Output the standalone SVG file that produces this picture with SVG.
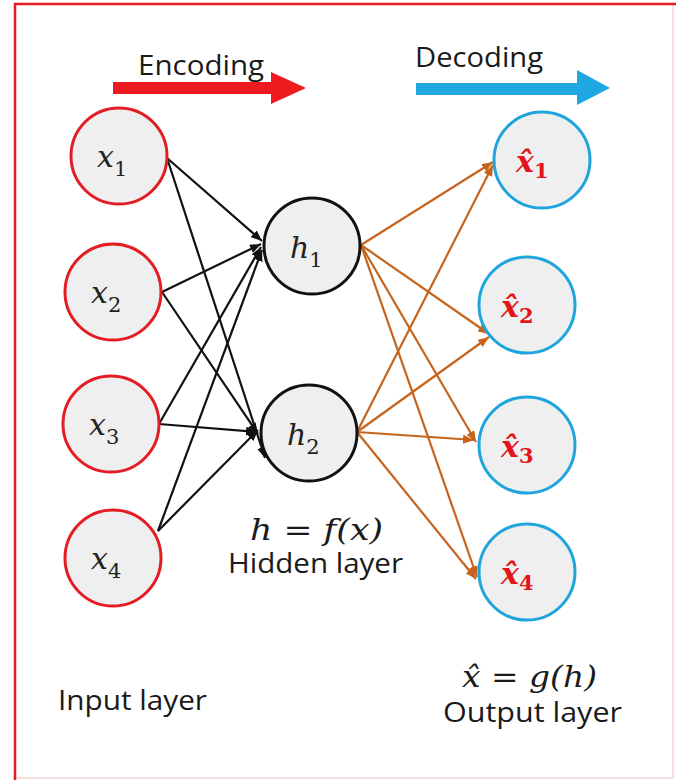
<svg xmlns="http://www.w3.org/2000/svg" width="676" height="782" viewBox="0 0 676 782">
<style>
.math{font-family:"DejaVu Serif","Liberation Serif",serif;font-style:italic;font-size:30px;fill:#222}
.eq{font-family:"DejaVu Serif","Liberation Serif",serif;font-style:italic;font-size:29px;fill:#1a1a1a}
.sub{font-style:normal;font-size:21px}
.hat{font-family:"DejaVu Serif","Liberation Serif",serif;font-style:italic;font-weight:bold;font-size:30px;fill:#e3151b}
.lbl{font-family:"Open Sans","Liberation Sans",sans-serif;font-size:27px;fill:#1a1a1a}
.in{fill:#efefef;stroke:#e31d23;stroke-width:3}
.hid{fill:#efefef;stroke:#111;stroke-width:3}
.out{fill:#efefef;stroke:#1fa5de;stroke-width:3}
.enc{stroke:#111;stroke-width:2.2;fill:none;marker-end:url(#ab)}
.dec{stroke:#c6641e;stroke-width:2.2;fill:none;marker-end:url(#ao)}
</style>
<defs>
<marker id="ab" markerUnits="userSpaceOnUse" markerWidth="11" markerHeight="9" refX="11" refY="4.5" orient="auto"><path d="M0,0 L11,4.5 L0,9 z" fill="#111"/></marker>
<marker id="ao" markerUnits="userSpaceOnUse" markerWidth="11" markerHeight="9" refX="11" refY="4.5" orient="auto"><path d="M0,0 L11,4.5 L0,9 z" fill="#c6641e"/></marker>
</defs>
<rect x="0" y="0" width="676" height="782" fill="#fff"/>
<rect x="15" y="4" width="658" height="774" fill="none" stroke="#f6dede" stroke-width="2"/>
<path d="M15,780 L15,4 L676,4" fill="none" stroke="#e31d23" stroke-width="2.5"/>
<g id="encoding">
<polygon points="113,82 271,82 271,72 306,88 271,104 271,94 113,94" fill="#ee1a1f"/>
<text class="lbl" x="138" y="75" font-size="26" textLength="126" lengthAdjust="spacingAndGlyphs">Encoding</text>
</g>
<g id="decoding">
<polygon points="416,83 577,83 577,70 610,88 577,105 577,95 416,95" fill="#1ea7e1"/>
<text class="lbl" x="415" y="67" font-size="26" textLength="128" lengthAdjust="spacingAndGlyphs">Decoding</text>
</g>
<g id="connectors">
<line class="enc" x1="167" y1="158" x2="262" y2="241"/>
<line class="enc" x1="167" y1="158" x2="265" y2="458"/>
<line class="enc" x1="162" y1="292" x2="261" y2="244"/>
<line class="enc" x1="162" y1="292" x2="258" y2="434"/>
<line class="enc" x1="159" y1="424" x2="261" y2="247"/>
<line class="enc" x1="159" y1="424" x2="257" y2="432"/>
<line class="enc" x1="158" y1="531" x2="262" y2="250"/>
<line class="enc" x1="158" y1="531" x2="258" y2="430"/>
<line class="dec" x1="361" y1="245" x2="493" y2="162"/>
<line class="dec" x1="361" y1="245" x2="489" y2="334"/>
<line class="dec" x1="361" y1="245" x2="476" y2="442"/>
<line class="dec" x1="361" y1="245" x2="477" y2="577"/>
<line class="dec" x1="357" y1="432" x2="493" y2="165"/>
<line class="dec" x1="357" y1="432" x2="489" y2="337"/>
<line class="dec" x1="357" y1="432" x2="474" y2="440"/>
<line class="dec" x1="357" y1="432" x2="476" y2="579"/>
</g>
<g id="x1"><circle class="in" cx="119" cy="156" r="48"/><text class="math" x="97" y="167">x<tspan class="sub" dy="9">1</tspan></text></g>
<g id="x2"><circle class="in" cx="113" cy="292" r="48"/><text class="math" x="91" y="303">x<tspan class="sub" dy="9">2</tspan></text></g>
<g id="x3"><circle class="in" cx="111" cy="424" r="48"/><text class="math" x="89" y="435">x<tspan class="sub" dy="9">3</tspan></text></g>
<g id="x4"><circle class="in" cx="113" cy="558" r="48"/><text class="math" x="91" y="569">x<tspan class="sub" dy="9">4</tspan></text></g>
<g id="h1"><circle class="hid" cx="312" cy="246" r="48"/><text class="math" x="290" y="258">h<tspan class="sub" dy="9">1</tspan></text></g>
<g id="h2"><circle class="hid" cx="309" cy="433" r="48"/><text class="math" x="287" y="445">h<tspan class="sub" dy="9">2</tspan></text></g>
<g id="o1"><circle class="out" cx="542" cy="160" r="48"/><text class="hat" x="516" y="172">x̂<tspan class="sub" dy="6">1</tspan></text></g>
<g id="o2"><circle class="out" cx="527" cy="305" r="48"/><text class="hat" x="501" y="317">x̂<tspan class="sub" dy="6">2</tspan></text></g>
<g id="o3"><circle class="out" cx="527" cy="445" r="48"/><text class="hat" x="501" y="457">x̂<tspan class="sub" dy="6">3</tspan></text></g>
<g id="o4"><circle class="out" cx="527" cy="572" r="48"/><text class="hat" x="501" y="584">x̂<tspan class="sub" dy="6">4</tspan></text></g>
<g id="hidden-label">
<text class="eq" x="250" y="540" textLength="133" lengthAdjust="spacingAndGlyphs">h = f(x)</text>
<text class="lbl" x="228" y="573" textLength="175" lengthAdjust="spacingAndGlyphs">Hidden layer</text>
</g>
<g id="input-label">
<text class="lbl" x="58" y="710" font-size="28" textLength="149" lengthAdjust="spacingAndGlyphs">Input layer</text>
</g>
<g id="output-label">
<text class="eq" x="462" y="687" textLength="135" lengthAdjust="spacingAndGlyphs">x̂ = g(h)</text>
<text class="lbl" x="443" y="722" font-size="28" textLength="179" lengthAdjust="spacingAndGlyphs">Output layer</text>
</g>
</svg>
